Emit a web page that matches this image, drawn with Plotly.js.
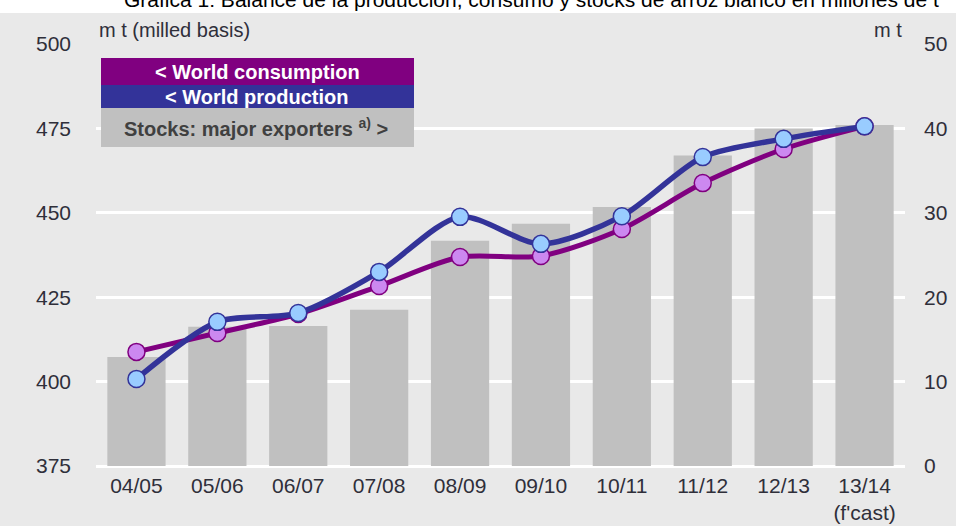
<!DOCTYPE html>
<html>
<head>
<meta charset="utf-8">
<script src="https://cdn.plot.ly/plotly-3.0.1.min.js"></script>
<style>html,body{margin:0;padding:0;background:#fff;}#chart{width:956px;height:526px;}</style>
</head>
<body>
<div id="chart"></div>
<script>
const seasons = ["04/05","05/06","06/07","07/08","08/09","09/10","10/11","11/12","12/13","13/14"];
const seasonLabels = ["04/05","05/06","06/07","07/08","08/09","09/10","10/11","11/12","12/13","13/14<br>(f'cast)"];
const stocks = [12.9, 16.5, 16.6, 18.5, 26.7, 28.7, 30.7, 36.8, 40.0, 40.4];
const consumption = [408.8, 414.4, 420.0, 428.3, 436.9, 437.2, 445.2, 458.8, 468.9, 475.6];
const production = [400.8, 417.7, 420.3, 432.5, 448.8, 440.8, 449.0, 466.5, 471.9, 475.6];
const leftTicks = [375, 400, 425, 450, 475, 500];
const rightTicks = [0, 10, 20, 30, 40, 50];

const FONT = "Liberation Sans, Arial, sans-serif";
const BG = "#e9e9e9";
const TXT = "#2f2f3a";

const traces = [
  {type:"bar", x: seasons, y: stocks, yaxis:"y", marker:{color:"#c0c0c0"}, width:0.72, hoverinfo:"none"},
  {type:"scatter", mode:"lines+markers", x: seasons, y: consumption, yaxis:"y2",
   line:{color:"#800080", width:5, shape:"spline", smoothing:0.8},
   marker:{size:17, color:"#cc88f0", line:{color:"#800080", width:1.5}}},
  {type:"scatter", mode:"lines+markers", x: seasons, y: production, yaxis:"y2",
   line:{color:"#333399", width:5.5, shape:"spline", smoothing:0.8},
   marker:{size:17, color:"#99ccff", line:{color:"#333399", width:1.5}}}
];

function px2y(p){ return (466 - p) / 422; }
function px2x(p){ return (p - 96) / 809; }

const layout = {
  width:956, height:526,
  margin:{l:96, r:51, t:44, b:60},
  paper_bgcolor: BG, plot_bgcolor: BG,
  showlegend:false,
  font:{family:FONT, color:TXT},
  xaxis:{type:"category", tickvals: seasons, ticktext: seasonLabels, range:[-0.5, 9.5],
         showgrid:false, zeroline:false, showline:false, ticks:"",
         tickfont:{size:21, color:TXT, family:FONT}, ticklabelstandoff:5},
  yaxis:{side:"right", range:[0,50], tickvals:rightTicks, showgrid:true, gridcolor:"#ffffff", gridwidth:3,
         zeroline:true, zerolinecolor:"#ffffff", zerolinewidth:3, showline:false, ticks:"",
         tickfont:{size:21, color:TXT, family:FONT}, ticklabelstandoff:18},
  yaxis2:{side:"left", overlaying:"y", range:[375,500], tickvals:leftTicks, showgrid:false,
          zeroline:false, showline:false, ticks:"",
          tickfont:{size:21, color:TXT, family:FONT}, ticklabelstandoff:24},
  shapes:[
    {type:"rect", xref:"paper", yref:"paper", x0:-0.2, x1:1.2, y0:px2y(13), y1:px2y(-20), fillcolor:"#ffffff", line:{width:0}, layer:"below"},
    {type:"rect", xref:"paper", yref:"paper", x0:px2x(101), x1:px2x(414), y0:px2y(85), y1:px2y(58), fillcolor:"#800080", line:{width:0}, layer:"above"},
    {type:"rect", xref:"paper", yref:"paper", x0:px2x(101), x1:px2x(414), y0:px2y(108), y1:px2y(85), fillcolor:"#333399", line:{width:0}, layer:"above"},
    {type:"rect", xref:"paper", yref:"paper", x0:px2x(101), x1:px2x(414), y0:px2y(147), y1:px2y(108), fillcolor:"#c0c0c0", line:{width:0}, layer:"above"}
  ],
  annotations:[
    {xref:"paper", yref:"paper", x:px2x(531), y:px2y(13), xanchor:"center", yanchor:"bottom", showarrow:false,
     text:"Gráfica 1: Balance de la producción, consumo y stocks de arroz blanco en millones de t",
     font:{size:21, color:"#000000", family:FONT}},
    {xref:"paper", yref:"paper", x:px2x(97), y:px2y(30), xanchor:"left", yanchor:"middle", showarrow:false,
     text:"m t (milled basis)", font:{size:20, color:TXT, family:FONT}},
    {xref:"paper", yref:"paper", x:px2x(904), y:px2y(30), xanchor:"right", yanchor:"middle", showarrow:false,
     text:"m t", font:{size:20, color:TXT, family:FONT}},
    {xref:"paper", yref:"paper", x:px2x(257), y:px2y(71.5), xanchor:"center", yanchor:"middle", showarrow:false,
     text:"<b>< World consumption</b>", font:{size:20, color:"#ffffff", family:FONT}},
    {xref:"paper", yref:"paper", x:px2x(257), y:px2y(96.5), xanchor:"center", yanchor:"middle", showarrow:false,
     text:"<b>< World production</b>", font:{size:20, color:"#ffffff", family:FONT}},
    {xref:"paper", yref:"paper", x:px2x(256), y:px2y(127.5), xanchor:"center", yanchor:"middle", showarrow:false,
     text:"<b>Stocks: major exporters <sup>a)</sup> ></b>", font:{size:20, color:"#404040", family:FONT}}
  ]
};

Plotly.newPlot("chart", traces, layout, {displayModeBar:false, staticPlot:true});
</script>
</body>
</html>
